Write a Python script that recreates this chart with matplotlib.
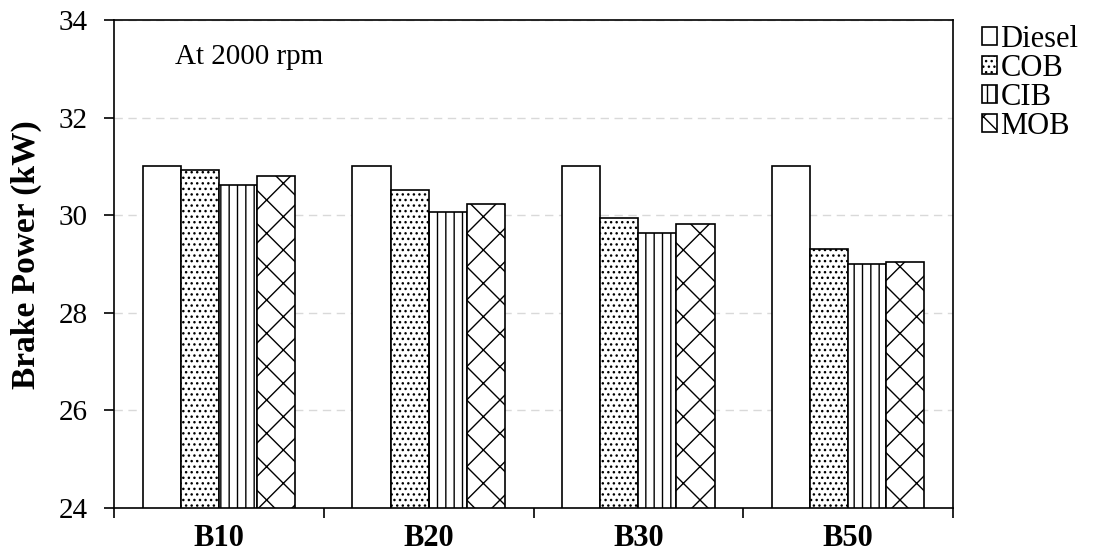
import numpy as np
import matplotlib.pyplot as plt

plt.rcParams['font.family'] = ['Liberation Serif', 'DejaVu Serif']
plt.rcParams['hatch.linewidth'] = 1.0

blends = ['B10', 'B20', 'B30', 'B50']
diesel = [31.0, 31.0, 31.0, 31.0]
cob = [30.92, 30.51, 29.94, 29.30]
cib = [30.62, 30.07, 29.64, 29.00]
mob = [30.81, 30.23, 29.81, 29.03]

series = [('Diesel', diesel, ''), ('COB', cob, '...'),
          ('CIB', cib, '||'), ('MOB', mob, 'x')]

fig = plt.figure(figsize=(10.98, 5.57), dpi=100)
ax = fig.add_axes([0.1041, 0.0885, 0.7636, 0.8755])

x = np.arange(len(blends))
w = 0.182
for k, (name, vals, hatch) in enumerate(series):
    ax.bar(x + (k - 1.5) * w, np.array(vals) - 24, w, bottom=24,
           color='white', edgecolor='black', linewidth=1.2, hatch=hatch,
           label=name, zorder=3)

ax.set_ylim(24, 34)
ax.set_xlim(-0.5, len(blends) - 0.5)
ax.set_yticks(np.arange(24, 35, 2))
ax.yaxis.grid(True, color='#d9d9d9', linestyle=(0, (6, 4)), linewidth=1.0, zorder=0)
ax.set_axisbelow(True)

ax.set_xticks(np.arange(len(blends) + 1) - 0.5)
ax.set_xticklabels([])
ax.set_xticks(x, minor=True)
ax.set_xticklabels(blends, minor=True, fontsize=22, fontweight='bold')
ax.tick_params(axis='x', which='minor', length=0, pad=12)
ax.tick_params(axis='x', which='major', length=7, width=1.2, direction='out')
ax.tick_params(axis='y', length=7, width=1.2, direction='out', labelsize=21, pad=12)

for s in ax.spines.values():
    s.set_linewidth(1.2)

ax.set_ylabel('Brake Power (kW)', fontsize=24, fontweight='bold')
ax.yaxis.set_label_coords(-0.086, 0.52)
ax.text(0.072, 0.925, 'At 2000 rpm', transform=ax.transAxes, fontsize=21,
        va='center', ha='left')

ax.legend(loc='upper left', bbox_to_anchor=(1.035, 0.99), frameon=False,
          fontsize=22, handlelength=0.5, handleheight=0.5, handletextpad=0.1,
          labelspacing=0.0, borderaxespad=0, borderpad=0)

fig.savefig('out.png', dpi=100)
